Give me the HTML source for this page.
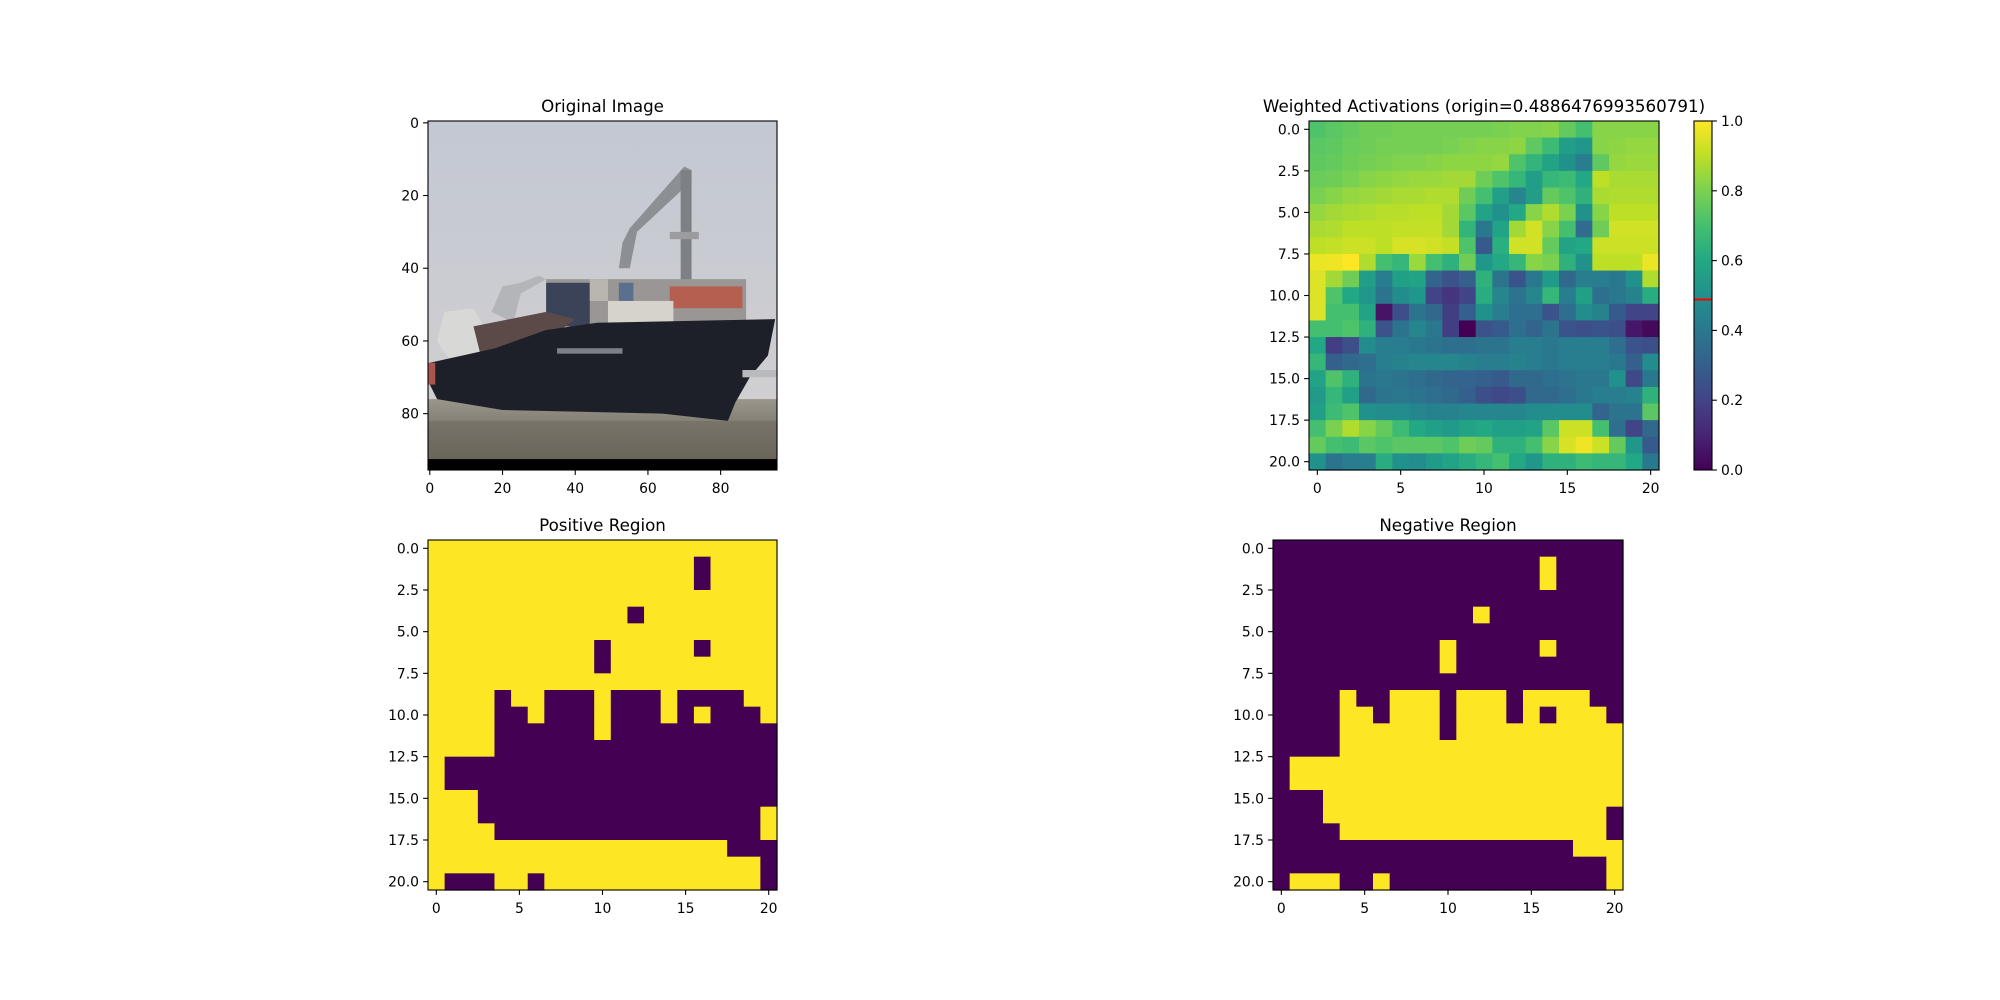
<!DOCTYPE html>
<html><head><meta charset="utf-8"><style>
html,body{margin:0;padding:0;background:#fff;}
svg{display:block;font-family:"DejaVu Sans","Liberation Sans",sans-serif;}
</style></head><body>
<svg id="fig" width="2000" height="1000" viewBox="0 0 2000 1000" xmlns="http://www.w3.org/2000/svg">
<defs>
<linearGradient id="sky" x1="0" y1="0" x2="0" y2="1"><stop offset="0" stop-color="#c3c8d3"/><stop offset="1" stop-color="#d3d0d0"/></linearGradient>
<linearGradient id="water" x1="0" y1="0" x2="0" y2="1"><stop offset="0" stop-color="#9a968c"/><stop offset="1" stop-color="#5e574a"/></linearGradient>
<linearGradient id="cbgrad" x1="0" y1="1" x2="0" y2="0">
<stop offset="0" stop-color="#440154"/><stop offset="0.1" stop-color="#482475"/><stop offset="0.2" stop-color="#414487"/><stop offset="0.3" stop-color="#355f8d"/><stop offset="0.4" stop-color="#2a788e"/><stop offset="0.5" stop-color="#21918c"/><stop offset="0.6" stop-color="#22a884"/><stop offset="0.7" stop-color="#44bf70"/><stop offset="0.8" stop-color="#7ad151"/><stop offset="0.9" stop-color="#bddf26"/><stop offset="1" stop-color="#fde725"/>
</linearGradient>
</defs>
<!-- Original image -->
<g id="orig">
<svg x="428" y="121" width="349" height="349" viewBox="-0.5 -0.5 96 96" preserveAspectRatio="none">
<rect x="-0.5" y="-0.5" width="96" height="96" fill="url(#sky)"/>
<rect x="-0.5" y="76" width="96" height="18" fill="url(#water)"/>
<polygon points="53,33 55,29 70,12 72,13 72,16 57,30 55,40 52,40" fill="#8c8f93"/>
<rect x="69" y="13" width="3" height="56" fill="#7d8085"/>
<rect x="66" y="30" width="8" height="2" fill="#9a9ca0"/>
<polygon points="17,52 20,45 25,44 30,42 32,43 25,47 23,55" fill="#b4b5b8"/>
<rect x="32" y="43" width="55" height="13" fill="#9a9696"/>
<rect x="32" y="44" width="12" height="12" fill="#3b4358"/>
<rect x="44" y="43" width="5" height="6" fill="#b9b6b0"/>
<rect x="52" y="44" width="4" height="6" fill="#5b6f8e"/>
<rect x="66" y="45" width="20" height="6" fill="#b45f4f"/>
<rect x="49" y="49" width="18" height="7" fill="#d6d3cc"/>
<polygon points="4,52 12,51 16,58 14,64 6,66 2,60" fill="#d8d8d6"/>
<polygon points="12,56 32,52 40,54 32,60 14,64" fill="#5c4a48"/>
<polygon points="0,66 18,62 32,57 46,55 95,54 93,64 88,70 84,77 82,82 64,80 20,79 2,76 0,72" fill="#1d2029"/>
<rect x="35" y="62" width="18" height="1.5" fill="#7e8088"/>
<rect x="-0.5" y="66" width="2" height="6" fill="#a8554d"/>
<rect x="86" y="68" width="9.5" height="2" fill="#b8babd"/>
<rect x="-0.5" y="82" width="96" height="11" fill="#6f6a60" opacity="0.6"/>
<rect x="-0.5" y="92.5" width="96" height="3" fill="#000"/>
</svg>
</g>
<g id="heat"></g>
<g id="pos"></g>
<g id="neg"></g>
<g id="cbar"></g>
</svg>
<script>
const heatValues = [
[0.72,0.74,0.76,0.78,0.78,0.79,0.79,0.79,0.79,0.79,0.79,0.8,0.81,0.81,0.82,0.76,0.7,0.82,0.82,0.82,0.82],
[0.74,0.75,0.77,0.78,0.79,0.79,0.79,0.79,0.8,0.81,0.82,0.82,0.83,0.75,0.68,0.55,0.52,0.82,0.83,0.84,0.84],
[0.75,0.76,0.78,0.79,0.8,0.81,0.81,0.82,0.83,0.83,0.83,0.84,0.72,0.65,0.58,0.5,0.42,0.75,0.84,0.85,0.85],
[0.77,0.78,0.8,0.82,0.83,0.84,0.85,0.85,0.86,0.86,0.78,0.72,0.66,0.55,0.66,0.68,0.6,0.9,0.87,0.87,0.87],
[0.8,0.82,0.84,0.85,0.86,0.87,0.87,0.88,0.88,0.78,0.7,0.56,0.45,0.55,0.76,0.72,0.64,0.87,0.88,0.88,0.88],
[0.84,0.86,0.87,0.88,0.89,0.89,0.9,0.9,0.86,0.74,0.58,0.5,0.6,0.82,0.88,0.8,0.5,0.82,0.9,0.9,0.9],
[0.87,0.88,0.9,0.9,0.9,0.91,0.91,0.91,0.86,0.65,0.4,0.58,0.86,0.93,0.82,0.7,0.35,0.78,0.93,0.93,0.93],
[0.9,0.91,0.92,0.92,0.9,0.94,0.94,0.93,0.91,0.72,0.28,0.63,0.93,0.93,0.76,0.58,0.6,0.92,0.92,0.92,0.92],
[0.97,0.98,1.0,0.88,0.7,0.66,0.85,0.7,0.64,0.78,0.52,0.6,0.66,0.82,0.8,0.64,0.5,0.9,0.9,0.9,0.97],
[0.95,0.86,0.78,0.55,0.42,0.56,0.58,0.32,0.25,0.3,0.64,0.38,0.26,0.4,0.54,0.34,0.42,0.42,0.4,0.5,0.88],
[0.95,0.72,0.6,0.52,0.38,0.48,0.52,0.2,0.15,0.2,0.62,0.45,0.38,0.46,0.66,0.42,0.56,0.36,0.4,0.44,0.62],
[0.95,0.7,0.7,0.58,0.05,0.24,0.38,0.34,0.18,0.3,0.5,0.42,0.36,0.36,0.26,0.36,0.48,0.44,0.28,0.2,0.2],
[0.7,0.7,0.72,0.64,0.25,0.38,0.46,0.4,0.18,0.0,0.25,0.28,0.36,0.32,0.38,0.26,0.24,0.26,0.24,0.06,0.02],
[0.6,0.18,0.24,0.48,0.42,0.42,0.4,0.38,0.36,0.36,0.38,0.38,0.42,0.42,0.4,0.42,0.42,0.42,0.36,0.26,0.24],
[0.66,0.3,0.34,0.36,0.42,0.44,0.46,0.46,0.46,0.44,0.42,0.42,0.44,0.42,0.4,0.42,0.42,0.42,0.4,0.3,0.48],
[0.58,0.72,0.64,0.38,0.4,0.38,0.36,0.34,0.32,0.32,0.3,0.28,0.34,0.34,0.36,0.38,0.4,0.4,0.5,0.22,0.4],
[0.54,0.66,0.56,0.34,0.38,0.4,0.38,0.36,0.34,0.3,0.24,0.22,0.24,0.34,0.34,0.36,0.4,0.42,0.42,0.44,0.64],
[0.56,0.68,0.72,0.5,0.48,0.48,0.46,0.44,0.44,0.46,0.46,0.46,0.46,0.48,0.48,0.48,0.48,0.32,0.38,0.38,0.74],
[0.7,0.8,0.88,0.82,0.76,0.68,0.6,0.56,0.54,0.58,0.6,0.56,0.56,0.58,0.74,0.92,0.92,0.7,0.36,0.2,0.34],
[0.76,0.7,0.68,0.74,0.72,0.74,0.74,0.74,0.72,0.78,0.76,0.64,0.64,0.7,0.82,0.94,0.98,0.92,0.76,0.52,0.28],
[0.5,0.38,0.42,0.42,0.62,0.5,0.48,0.54,0.58,0.62,0.66,0.7,0.6,0.52,0.64,0.64,0.68,0.66,0.66,0.6,0.4]
];
const positiveMask = [
"111111111111111111111",
"111111111111111101111",
"111111111111111101111",
"111111111111111111111",
"111111111111011111111",
"111111111111111111111",
"111111111101111101111",
"111111111101111111111",
"111111111111111111111",
"111101100010001000011",
"111100100010001010001",
"111100000010000000000",
"111100000000000000000",
"100000000000000000000",
"100000000000000000000",
"111000000000000000000",
"111000000000000000001",
"111100000000000000001",
"111111111111111111000",
"111111111111111111110",
"100011011111111111110"
];
const originValue = 0.4886476993560791;
const gridTicksX = [0,5,10,15,20];
const gridTicksY = [0,2.5,5,7.5,10,12.5,15,17.5,20];
const imgTicks = [0,20,40,60,80];
const cbarTicks = [0,0.2,0.4,0.6,0.8,1.0];

const NS="http://www.w3.org/2000/svg";
const stops=[[0,"#440154"],[0.1,"#482475"],[0.2,"#414487"],[0.3,"#355f8d"],[0.4,"#2a788e"],[0.5,"#21918c"],[0.6,"#22a884"],[0.7,"#44bf70"],[0.8,"#7ad151"],[0.9,"#bddf26"],[1,"#fde725"]];
function hx(h){return [1,3,5].map(i=>parseInt(h.substr(i,2),16));}
function viridis(t){t=Math.max(0,Math.min(1,t));for(let i=1;i<stops.length;i++){if(t<=stops[i][0]){const a=hx(stops[i-1][1]),b=hx(stops[i][1]);const f=(t-stops[i-1][0])/(stops[i][0]-stops[i-1][0]);return "rgb("+a.map((v,k)=>Math.round(v+(b[k]-v)*f)).join(",")+")";}}return stops[10][1];}
function el(tag,attrs,parent){const e=document.createElementNS(NS,tag);for(const k in attrs)e.setAttribute(k,attrs[k]);parent.appendChild(e);return e;}
function fmt(v,d){return v.toFixed(d);}

function axes(g,L,T,W,H,n,tx,ty,dx,dy,title,name){
  const sx=v=>L+(v+0.5)*W/n, sy=v=>T+(v+0.5)*H/n;
  const t=el("text",{x:L+W/2,y:T-9,"text-anchor":"middle","font-size":"16.7",fill:"#000"},g);
  t.textContent=title;
  
  
  tx.forEach(v=>{const x=sx(v);el("line",{x1:x,x2:x,y1:T+H,y2:T+H+4.9,stroke:"#000","stroke-width":1.1},g);
    const l=el("text",{x:x,y:T+H+23,"text-anchor":"middle","font-size":"13.9"},g);l.textContent=fmt(v,dx);
    
    });
  ty.forEach(v=>{const y=sy(v);el("line",{x1:L-4.9,x2:L,y1:y,y2:y,stroke:"#000","stroke-width":1.1},g);
    const l=el("text",{x:L-9,y:y+5,"text-anchor":"end","font-size":"13.9"},g);l.textContent=fmt(v,dy);
    
    });
  const f=el("rect",{x:L,y:T,width:W,height:H,fill:"none",stroke:"#000","stroke-width":1.1},g);
  
  
}
function grid(g,L,T,W,H,colorFn,name){
  const n=21,cw=W/n,ch=H/n;
  for(let r=0;r<n;r++)for(let c=0;c<n;c++){
    const rc=el("rect",{x:L+c*cw,y:T+r*ch,width:cw+0.6,height:ch+0.6,fill:colorFn(r,c)},g);
    
    
  }
}
// original image axes
const og=document.getElementById("orig");
axes(og,428,121,349,349,96,imgTicks,imgTicks,0,0,"Original Image","original-image");
// heatmap
const hg=document.getElementById("heat");
grid(hg,1309,121,350,349,(r,c)=>viridis(heatValues[r][c]),"heatmap");
axes(hg,1309,121,350,349,21,gridTicksX,gridTicksY,0,1,"Weighted Activations (origin="+originValue+")","weighted-activations");
// positive
const YEL="#fde725",PUR="#440154";
const pg=document.getElementById("pos");
grid(pg,428,540,349,350,(r,c)=>positiveMask[r][c]==="1"?YEL:PUR,"positive");
axes(pg,428,540,349,350,21,gridTicksX,gridTicksY,0,1,"Positive Region","positive-region");
// negative
const ng=document.getElementById("neg");
grid(ng,1273,540,350,350,(r,c)=>positiveMask[r][c]==="1"?PUR:YEL,"negative");
axes(ng,1273,540,350,350,21,gridTicksX,gridTicksY,0,1,"Negative Region","negative-region");
// colorbar
const cg=document.getElementById("cbar");
const CL=1694,CT=121,CW=18,CH=349;
const cy=v=>CT+CH*(1-v);
el("rect",{x:CL,y:CT,width:CW,height:CH,fill:"url(#cbgrad)"},cg);
const ol=el("line",{x1:CL,x2:CL+CW,y1:cy(originValue),y2:cy(originValue),stroke:"#ff0000","stroke-width":2},cg);


cbarTicks.forEach(v=>{const y=cy(v);el("line",{x1:CL+CW,x2:CL+CW+4.9,y1:y,y2:y,stroke:"#000","stroke-width":1.1},cg);
  const l=el("text",{x:CL+CW+9,y:y+5,"font-size":"13.9"},cg);l.textContent=fmt(v,1);
  
  });
el("rect",{x:CL,y:CT,width:CW,height:CH,fill:"none",stroke:"#000","stroke-width":1.1},cg);
</script>
</body></html>
